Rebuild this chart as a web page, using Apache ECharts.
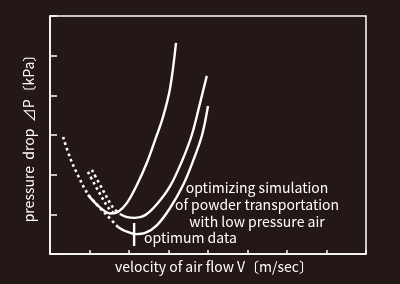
<!DOCTYPE html>
<html>
<head>
<meta charset="utf-8">
<script src="https://cdn.jsdelivr.net/npm/echarts@6/dist/echarts.min.js"></script>
<style>
html,body{margin:0;padding:0;background:#231815;}
#chart{width:400px;height:284px;}
</style>
</head>
<body>
<div id="chart"></div>
<script>
// Axis ranges (ticks only, no labels)
const xTicks = [0, 1, 2, 3, 4, 5, 6, 7, 8];
const yTicks = [0, 1, 2, 3, 4, 5, 6];

// Solid curves [velocity, pressure drop]
const curveA = [[0.96,1.49],[1.19,1.24],[1.39,1.08],[1.54,1.02],[1.72,1.06],[1.95,1.29],[2.20,1.74],[2.46,2.32],[2.66,2.87],[2.86,3.45],[3.04,4.18],[3.19,5.32]];
const curveB = [[1.77,1.01],[1.95,0.93],[2.15,0.91],[2.41,0.98],[2.71,1.26],[3.04,1.71],[3.34,2.34],[3.59,3.00],[3.80,3.81],[3.97,4.49]];
const curveC = [[1.72,0.68],[1.90,0.58],[2.18,0.50],[2.41,0.53],[2.71,0.73],[3.04,1.16],[3.37,1.74],[3.62,2.34],[3.85,3.00],[4.00,3.73]];

// Dotted extensions
const dotC  = [[0.33,2.95],[0.51,2.42],[0.68,2.04],[0.94,1.54],[1.19,1.24],[1.44,0.98],[1.72,0.68]];
const dotB1 = [[0.96,2.07],[1.24,1.56],[1.52,1.11],[1.70,1.00]];
const dotB2 = [[1.06,2.12],[1.34,1.61],[1.59,1.18],[1.77,1.01]];

// Optimum data marker (vertical bar)
const optimum = [[2.13,0.78],[2.13,0.20]];

const labels = ['optimizing simulation','of powder transportation','with low pressure air'];
const optimumLabel = 'optimum data';
const xTitle = 'velocity of air flow V〔m/sec〕';
const yTitle = 'pressure  drop  ⊿P〔kPa〕';

const FONT = '"Noto Sans CJK JP", "Noto Sans", sans-serif';
const solid = (d) => ({type:'line', data:d, smooth:0.35, symbol:'none', lineStyle:{color:'#fff', width:2.4}, silent:true});
const dotted = (d) => ({type:'line', data:d, smooth:0.35, symbol:'none', lineStyle:{color:'#fff', width:2.6, type:[2.6,3.2], cap:'butt'}, silent:true});

const chart = echarts.init(document.getElementById('chart'), null, {renderer:'canvas'});
chart.setOption({
  backgroundColor:'#231815',
  animation:false,
  grid:{left:50, top:16, right:34, bottom:30, show:true, borderColor:'#fff', borderWidth:1.5, containLabel:false},
  xAxis:{type:'value', min:xTicks[0], max:xTicks[xTicks.length-1], interval:1,
    name:xTitle, nameLocation:'middle', nameGap:6,
    nameTextStyle:{color:'#fff', fontSize:14, fontFamily:FONT, verticalAlign:'top', padding:[0,0,0,12]},
    axisLine:{show:true, lineStyle:{color:'#fff', width:1.5}},
    axisTick:{show:true, inside:true, length:4, lineStyle:{color:'#fff', width:1.5}},
    axisLabel:{show:false}, splitLine:{show:false}},
  yAxis:{type:'value', min:yTicks[0], max:yTicks[yTicks.length-1], interval:1,
    name:yTitle, nameLocation:'middle', nameGap:14,
    nameTextStyle:{color:'#fff', fontSize:14, fontFamily:FONT},
    axisLine:{show:true, lineStyle:{color:'#fff', width:1.5}},
    axisTick:{show:true, inside:true, length:7, lineStyle:{color:'#fff', width:1.5}},
    axisLabel:{show:false}, splitLine:{show:false}},
  graphic:[
    {type:'text', x:257, y:179, style:{text:labels.join('\n'), fill:'#fff', font:'14px '+FONT, textAlign:'center', textVerticalAlign:'top', lineHeight:17}},
    {type:'text', x:144, y:231, style:{text:optimumLabel, fill:'#fff', font:'14px '+FONT, textVerticalAlign:'top'}}
  ],
  series:[
    solid(curveA), solid(curveB), solid(curveC),
    dotted(dotC), dotted(dotB1), dotted(dotB2),
    {type:'line', data:optimum, symbol:'none', lineStyle:{color:'#fff', width:2.4}, silent:true}
  ]
});
</script>
</body>
</html>
